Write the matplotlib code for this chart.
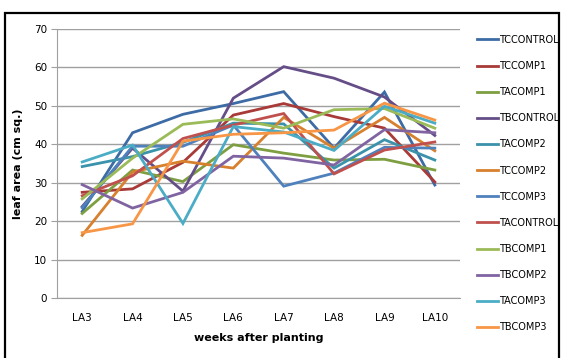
import matplotlib.pyplot as plt
from matplotlib.patches import Rectangle

plt.rcParams['font.family'] = ['Liberation Sans Narrow', 'DejaVu Sans']

weeks = ["LA3", "LA4", "LA5", "LA6", "LA7", "LA8", "LA9", "LA10"]

tccontrol = [22.5, 43.0, 47.8, 50.6, 53.7, 39.0, 53.6, 29.4]
tccomp1 = [27.5, 28.4, 35.3, 47.6, 50.6, 47.2, 44.2, 30.2]
tacomp1 = [22.0, 33.3, 30.3, 39.9, 37.7, 35.9, 36.1, 33.3]
tbcontrol = [23.8, 39.0, 27.8, 52.0, 60.2, 57.2, 52.3, 42.3]
tacomp2 = [34.2, 36.8, 40.5, 45.5, 45.3, 33.8, 41.2, 35.9]
tccomp2 = [16.3, 32.8, 35.6, 33.8, 47.0, 39.0, 47.0, 38.3]
tccomp3 = [23.5, 39.5, 39.5, 45.0, 29.1, 32.5, 39.2, 39.0]
tacontrol = [26.6, 31.8, 41.5, 45.0, 48.0, 32.3, 38.5, 40.6]
tbcomp1 = [25.8, 36.4, 45.2, 46.6, 44.2, 49.0, 49.3, 44.2]
tbcomp2 = [29.5, 23.4, 27.5, 36.9, 36.4, 34.6, 43.8, 43.0]
tacomp3 = [35.4, 39.8, 19.4, 44.6, 43.2, 38.4, 49.9, 45.5]
tbcomp3 = [17.0, 19.3, 40.8, 42.6, 43.0, 43.7, 50.7, 46.3]

names = ["TCCONTROL", "TCCOMP1", "TACOMP1", "TBCONTROL", "TACOMP2", "TCCOMP2",
         "TCCOMP3", "TACONTROL", "TBCOMP1", "TBCOMP2", "TACOMP3", "TBCOMP3"]
series = [tccontrol, tccomp1, tacomp1, tbcontrol, tacomp2, tccomp2,
          tccomp3, tacontrol, tbcomp1, tbcomp2, tacomp3, tbcomp3]
colors = ["#3C6BA5", "#A83A37", "#7E9F41", "#654E88", "#3A92AB", "#D7802E",
          "#4F81BD", "#C0504D", "#9BBB59", "#8064A2", "#4BACC6", "#F79646"]

fig = plt.figure(figsize=(5.68, 3.58), dpi=100)
ax = fig.add_axes([57 / 568, 1 - 298 / 358, (460 - 57) / 568, (298 - 29) / 358])

x = range(len(weeks))
for vals, name, c in zip(series, names, colors):
    ax.plot(x, vals, color=c, lw=2.0, label=name, solid_joinstyle='miter')

ax.set_xlim(-0.5, len(weeks) - 0.5)
ax.set_ylim(0, 70)
ax.set_yticks(range(0, 71, 10))
ax.set_xticks(list(x))
ax.set_xticklabels(weeks)
ax.yaxis.grid(True, color="#A0A0A0", lw=1)
ax.set_axisbelow(True)
for s in ["top", "right"]:
    ax.spines[s].set_visible(False)
ax.spines["left"].set_color("#A0A0A0")
ax.spines["bottom"].set_color("#A0A0A0")
ax.tick_params(axis="y", length=4, color="#A0A0A0", labelsize=7.5, pad=3)
ax.tick_params(axis="x", length=0, labelsize=7.5, pad=11)

ax.set_ylabel("leaf area (cm sq.)", fontsize=8, fontweight="bold", labelpad=8)
ax.set_xlabel("weeks after planting", fontsize=8, fontweight="bold", labelpad=7)

fig.legend(loc="upper left", bbox_to_anchor=(473 / 568, 1 - 31 / 358), frameon=False,
           fontsize=7, handlelength=2.2, handletextpad=0.1, labelspacing=1.66,
           borderaxespad=0)

# outer frame around the chart
fig.patches.append(Rectangle((5 / 568, -0.05), (559 - 5) / 568, 1 - 13 / 358 + 0.05,
                             transform=fig.transFigure, fill=False, ec="black", lw=1.6))

fig.savefig("out.png", dpi=100)
